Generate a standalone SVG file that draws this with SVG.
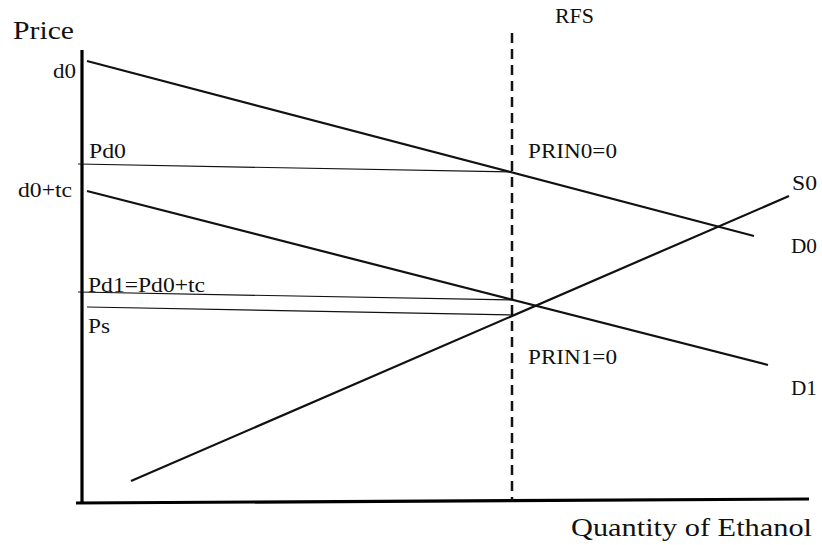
<svg xmlns="http://www.w3.org/2000/svg" width="822" height="545" viewBox="0 0 822 545">
<style>
.axis{stroke:#000;stroke-width:3.2;fill:none}
.curve{stroke:#111;stroke-width:2.2;fill:none}
.price{stroke:#111;stroke-width:1.2;fill:none}
.rfs{stroke:#111;stroke-width:2.5;stroke-dasharray:10 6;fill:none}
</style>
<rect width="822" height="545" fill="#fff"/>
<g id="axes" font-family="Liberation Serif, serif" fill="#111">
<line class="axis" x1="82" y1="50" x2="82" y2="504"/>
<line class="axis" x1="76" y1="503" x2="809" y2="499"/>
<text x="13" y="39" textLength="61" lengthAdjust="spacingAndGlyphs" font-size="25">Price</text>
<text x="571" y="536" textLength="241" lengthAdjust="spacingAndGlyphs" font-size="25">Quantity of Ethanol</text>
</g>
<g id="connectors">
<line class="rfs" x1="512" y1="33" x2="512" y2="501"/>
<line class="curve" x1="87" y1="61" x2="754" y2="236"/>
<line class="curve" x1="87" y1="191" x2="768" y2="365"/>
<line class="curve" x1="131" y1="481" x2="789" y2="196"/>
<line class="price" x1="78" y1="164" x2="512" y2="172"/>
<line class="price" x1="78" y1="292" x2="512" y2="300"/>
<line class="price" x1="87" y1="307" x2="512" y2="315"/>
</g>
<g id="labels" font-family="Liberation Serif, serif" font-size="21" fill="#111">
<text x="53" y="78" textLength="23" lengthAdjust="spacingAndGlyphs">d0</text>
<text x="89" y="158" textLength="37" lengthAdjust="spacingAndGlyphs">Pd0</text>
<text x="18" y="197" textLength="54" lengthAdjust="spacingAndGlyphs">d0+tc</text>
<text x="88" y="292" textLength="117" lengthAdjust="spacingAndGlyphs">Pd1=Pd0+tc</text>
<text x="88" y="333" textLength="22" lengthAdjust="spacingAndGlyphs">Ps</text>
<text x="555" y="23" textLength="39" lengthAdjust="spacingAndGlyphs">RFS</text>
<text x="528" y="158" textLength="89" lengthAdjust="spacingAndGlyphs">PRIN0=0</text>
<text x="528" y="364" textLength="89" lengthAdjust="spacingAndGlyphs">PRIN1=0</text>
<text x="792" y="190" textLength="25" lengthAdjust="spacingAndGlyphs">S0</text>
<text x="791" y="253" textLength="26" lengthAdjust="spacingAndGlyphs">D0</text>
<text x="791" y="395" textLength="26" lengthAdjust="spacingAndGlyphs">D1</text>
</g>
</svg>
